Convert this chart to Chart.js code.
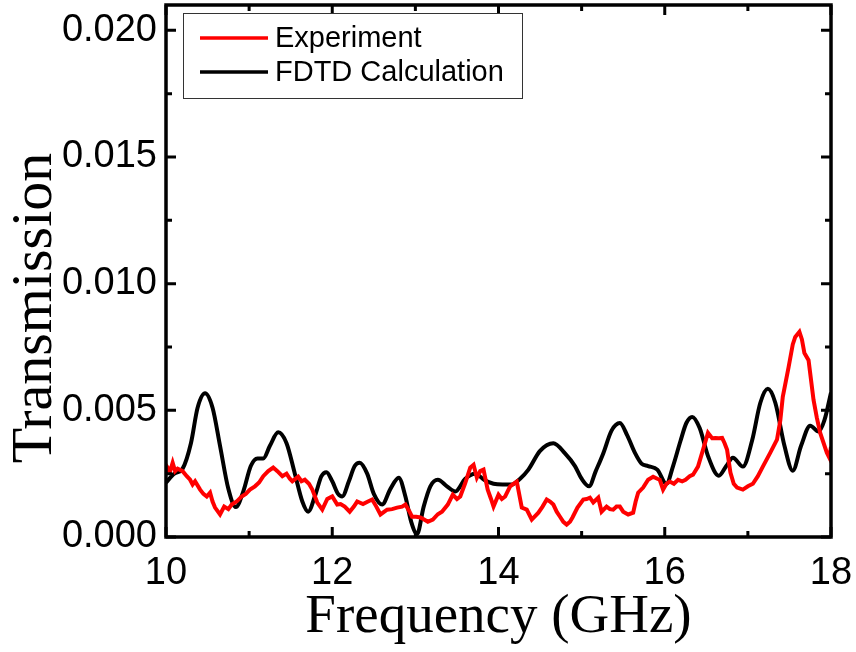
<!DOCTYPE html>
<html>
<head>
<meta charset="utf-8">
<script src="https://cdn.jsdelivr.net/npm/chart.js@4.4.1/dist/chart.umd.min.js"></script>
<style>
  html, body { margin: 0; padding: 0; background: #fff; }
  #wrap { width: 856px; height: 652px; }
</style>
</head>
<body>
<div id="wrap"><canvas id="chartContainer" width="856" height="652"></canvas></div>
<script>
// Experiment (red)
var expFreq = [10.0,10.02,10.05,10.08,10.11,10.14,10.2,10.25,10.29,10.32,10.35,10.41,10.45,10.49,10.53,10.56,10.59,10.65,10.7,10.75,10.79,10.85,10.91,10.96,11.01,11.07,11.12,11.17,11.23,11.29,11.34,11.4,11.45,11.49,11.52,11.59,11.63,11.67,11.72,11.76,11.82,11.88,11.94,12.0,12.06,12.1,12.15,12.21,12.26,12.3,12.37,12.43,12.48,12.53,12.58,12.66,12.72,12.78,12.84,12.88,12.93,12.96,13.01,13.06,13.1,13.15,13.21,13.27,13.32,13.39,13.45,13.5,13.54,13.6,13.66,13.7,13.74,13.78,13.82,13.87,13.91,13.94,14.0,14.04,14.08,14.14,14.18,14.22,14.28,14.34,14.4,14.48,14.53,14.58,14.62,14.66,14.7,14.74,14.78,14.82,14.86,14.89,14.95,15.02,15.06,15.1,15.14,15.2,15.24,15.3,15.34,15.38,15.42,15.46,15.5,15.56,15.62,15.65,15.68,15.74,15.8,15.86,15.91,15.94,15.98,16.02,16.06,16.11,16.16,16.21,16.25,16.3,16.34,16.4,16.46,16.52,16.57,16.61,16.65,16.69,16.72,16.75,16.79,16.83,16.87,16.94,17.0,17.06,17.12,17.18,17.27,17.35,17.39,17.42,17.49,17.54,17.57,17.62,17.65,17.68,17.73,17.79,17.83,17.87,17.95,17.98,18.0];
var expTrans = [0.0025,0.00274,0.0026,0.00293,0.0026,0.0027,0.0026,0.0024,0.00226,0.00207,0.0022,0.00187,0.0017,0.0016,0.00175,0.0014,0.00116,0.00089,0.0012,0.0011,0.00128,0.0014,0.0016,0.0017,0.00187,0.002,0.00215,0.0024,0.0026,0.00274,0.0026,0.0024,0.0025,0.0023,0.0022,0.00238,0.0022,0.00226,0.0021,0.00187,0.00136,0.00108,0.0015,0.0016,0.00128,0.0013,0.0012,0.001,0.0012,0.0014,0.0013,0.0014,0.00148,0.0012,0.00089,0.00108,0.0011,0.00116,0.0012,0.00128,0.001,0.0008,0.0008,0.00077,0.0007,0.0006,0.00069,0.0009,0.001,0.00128,0.00167,0.0015,0.0016,0.00213,0.00274,0.00285,0.00234,0.0026,0.00266,0.00187,0.0015,0.0012,0.00167,0.0015,0.0016,0.002,0.0021,0.00219,0.00116,0.00108,0.00069,0.00096,0.0012,0.00148,0.0014,0.00128,0.001,0.0008,0.0006,0.00049,0.0006,0.00077,0.00116,0.00148,0.0015,0.00155,0.00136,0.00155,0.001,0.0012,0.0011,0.00108,0.0012,0.0012,0.001,0.00089,0.00096,0.0014,0.00175,0.00195,0.00226,0.00238,0.0023,0.00226,0.00187,0.0021,0.00219,0.0021,0.00226,0.0022,0.00226,0.0024,0.00246,0.00278,0.00344,0.00411,0.0039,0.00391,0.0039,0.00391,0.0037,0.00344,0.00254,0.0021,0.00195,0.00187,0.002,0.0021,0.0024,0.00278,0.00333,0.00384,0.0046,0.00553,0.00671,0.0076,0.0079,0.0081,0.0078,0.00726,0.00698,0.00541,0.0047,0.00411,0.00333,0.00313,0.00356];

// FDTD Calculation (black)
var fdtdFreq = [10.0,10.1,10.2,10.3,10.38,10.47,10.56,10.65,10.75,10.84,10.93,11.02,11.1,11.17,11.25,11.35,11.45,11.55,11.64,11.71,11.8,11.87,11.93,12.0,12.07,12.12,12.2,12.27,12.33,12.42,12.5,12.6,12.7,12.8,12.88,12.95,13.02,13.1,13.18,13.27,13.38,13.48,13.6,13.72,13.83,13.94,14.05,14.16,14.26,14.36,14.5,14.66,14.8,14.92,15.0,15.09,15.17,15.26,15.36,15.46,15.55,15.64,15.72,15.8,15.91,16.02,16.1,16.19,16.26,16.33,16.42,16.52,16.65,16.74,16.82,16.94,17.05,17.15,17.24,17.33,17.44,17.54,17.64,17.75,17.85,17.92,18.0];
var fdtdTrans = [0.00215,0.0025,0.0027,0.0037,0.0051,0.00567,0.0051,0.0036,0.0019,0.00118,0.0018,0.0028,0.0031,0.0031,0.0036,0.00413,0.0037,0.0025,0.0014,0.001,0.0017,0.0024,0.00256,0.0022,0.0017,0.0016,0.0022,0.0028,0.00293,0.0025,0.0017,0.00128,0.0019,0.00234,0.0016,0.0006,0.00012,0.0012,0.002,0.00226,0.002,0.0018,0.0023,0.0025,0.00225,0.0021,0.00207,0.00207,0.0023,0.00266,0.0034,0.0037,0.0033,0.0028,0.0023,0.002,0.0026,0.0033,0.0042,0.0045,0.004,0.00333,0.0029,0.0028,0.00266,0.0021,0.0028,0.0038,0.0045,0.00474,0.0043,0.0032,0.00242,0.0028,0.00313,0.00278,0.0038,0.0053,0.00585,0.0053,0.0036,0.00262,0.0036,0.00439,0.00416,0.0046,0.0057];

var seriesNames = ["Experiment", "FDTD Calculation"];
var xMajorTicks = [10, 12, 14, 16, 18];
var xMinorTicks = [11, 13, 15, 17];
var yMajorTicks = [0, 0.005, 0.010, 0.015, 0.020];
var yMinorTicks = [0.0025, 0.0075, 0.0125, 0.0175];

function toPoints(xs, ys){
    var pts = [];
    for(var i=0; i<xs.length; i++){
        pts.push({x: xs[i], y: ys[i]});
    }
    return pts;
}

// frame + inward ticks on all four sides, y title and the boxed legend
var framePlugin = {
    id: 'frameTicks',
    afterDatasetsDraw: function(chart){
        var ctx = chart.ctx;
        var a = chart.chartArea;
        var xs = chart.scales.x, ys = chart.scales.y;
        ctx.save();
        ctx.strokeStyle = '#000';
        ctx.lineWidth = 3;
        ctx.lineCap = 'butt';
        ctx.beginPath();
        xMajorTicks.concat(xMinorTicks).forEach(function(v){
            var len = xMajorTicks.indexOf(v) >= 0 ? 10 : 6;
            var px = xs.getPixelForValue(v);
            ctx.moveTo(px, a.bottom); ctx.lineTo(px, a.bottom - len);
            ctx.moveTo(px, a.top); ctx.lineTo(px, a.top + len);
        });
        yMajorTicks.concat(yMinorTicks).forEach(function(v){
            var len = yMajorTicks.indexOf(v) >= 0 ? 10 : 6;
            var py = ys.getPixelForValue(v);
            ctx.moveTo(a.left, py); ctx.lineTo(a.left + len, py);
            ctx.moveTo(a.right, py); ctx.lineTo(a.right - len, py);
        });
        ctx.stroke();
        ctx.lineWidth = 3.5;
        ctx.strokeRect(a.left, a.top, a.right - a.left, a.bottom - a.top);

        // y title
        ctx.save();
        ctx.translate(36, 308);
        ctx.rotate(-Math.PI / 2);
        ctx.font = '58px "Liberation Serif", "Times New Roman", serif';
        ctx.fillStyle = '#000';
        ctx.textAlign = 'center';
        ctx.textBaseline = 'middle';
        ctx.fillText('Transmission', 0, 0);
        ctx.restore();

        // legend
        var lx = 183, ly = 13, lw = 339, lh = 85;
        ctx.fillStyle = '#fff';
        ctx.fillRect(lx, ly, lw, lh);
        ctx.lineWidth = 1;
        ctx.strokeStyle = '#333';
        ctx.strokeRect(lx + 0.5, ly + 0.5, lw, lh);
        ctx.font = '29px "Liberation Sans", Arial, sans-serif';
        ctx.textBaseline = 'middle';
        ctx.textAlign = 'left';
        chart.data.datasets.forEach(function(ds, i){
            var cy = 38 + i * 34;
            ctx.strokeStyle = ds.borderColor;
            ctx.lineWidth = 3.5;
            ctx.beginPath();
            ctx.moveTo(200, cy); ctx.lineTo(268, cy);
            ctx.stroke();
            ctx.fillStyle = '#000';
            ctx.fillText(ds.label, 275, cy + 1);
        });
        ctx.restore();
    }
};

var myChart = new Chart('chartContainer', {
    type: 'line',
    data: {
        datasets: [{
            label: seriesNames[0],
            data: toPoints(expFreq, expTrans),
            borderColor: '#ff0000',
            borderWidth: 4,
            pointRadius: 0,
            tension: 0
        }, {
            label: seriesNames[1],
            data: toPoints(fdtdFreq, fdtdTrans),
            borderColor: '#000000',
            borderWidth: 4,
            pointRadius: 0,
            cubicInterpolationMode: 'monotone'
        }]
    },
    options: {
        responsive: false,
        animation: false,
        layout: { padding: { top: 5, right: 25, left: 0, bottom: 0 } },
        plugins: {
            legend: { display: false },
            tooltip: { enabled: false }
        },
        scales: {
            x: {
                type: 'linear',
                min: 10, max: 18,
                grid: { display: false, drawTicks: false },
                border: { display: false },
                afterFit: function(s){
                    s.height = 115;
                    s.paddingLeft = 0; s.paddingRight = 0;
                },
                afterBuildTicks: function(s){ s.ticks = xMajorTicks.map(function(v){ return {value: v}; }); },
                ticks: {
                    color: '#000',
                    padding: 14,
                    font: { family: '"Liberation Sans", Arial, sans-serif', size: 38 },
                    callback: function(v){ return v; }
                },
                title: {
                    display: true,
                    text: 'Frequency (GHz)',
                    color: '#000',
                    font: { family: '"Liberation Serif", "Times New Roman", serif', size: 55 },
                    padding: { top: 0, bottom: 1 }
                }
            },
            y: {
                type: 'linear',
                min: 0, max: 0.021,
                grid: { display: false, drawTicks: false },
                border: { display: false },
                afterFit: function(s){
                    s.width = 166;
                    s.paddingTop = 0; s.paddingBottom = 0;
                },
                afterBuildTicks: function(s){ s.ticks = yMajorTicks.map(function(v){ return {value: v}; }); },
                ticks: {
                    color: '#000',
                    padding: 9,
                    font: { family: '"Liberation Sans", Arial, sans-serif', size: 38 },
                    callback: function(v){ return v.toFixed(3); }
                }
            }
        }
    },
    plugins: [framePlugin]
});
</script>
</body>
</html>
